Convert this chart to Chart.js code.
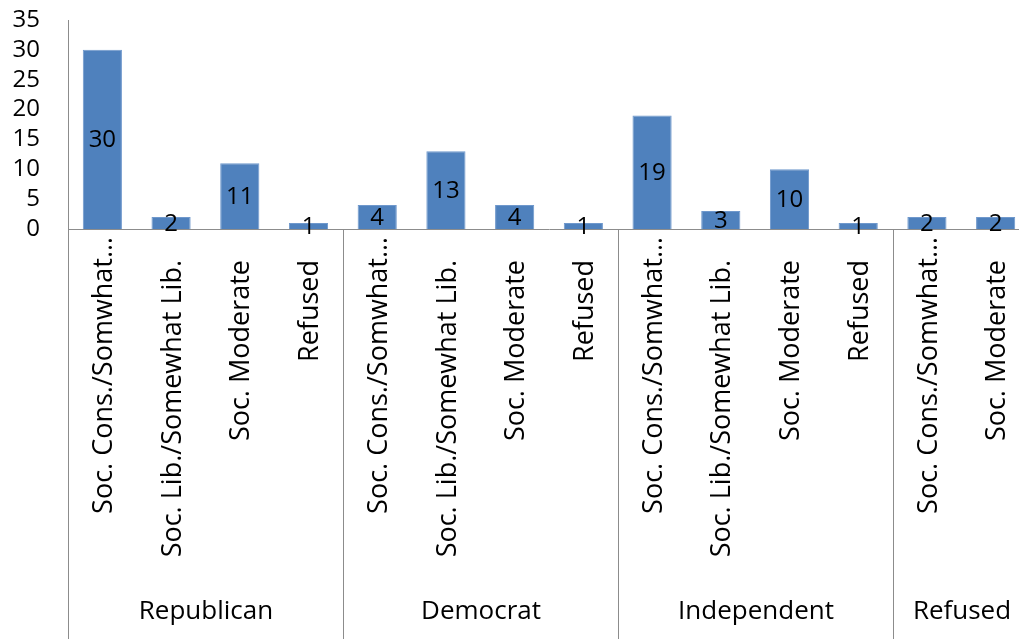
<!DOCTYPE html>
<html>
<head>
<meta charset="utf-8">
<title>Social ideology by party</title>
<script src="https://cdn.jsdelivr.net/npm/chart.js@4/dist/chart.umd.min.js"></script>
<style>
  html, body { margin: 0; padding: 0; background: #ffffff; overflow: hidden; }
  #wrap { width: 1030px; height: 639px; }
</style>
</head>
<body>
<div id="wrap"><canvas id="chart" width="1030" height="639"></canvas></div>
<script>
// Party groups and how many ideology categories sit under each one
const groupNames = ['Republican', 'Democrat', 'Independent', 'Refused'];
const groupSizes = [4, 4, 4, 2];

// Ideology categories, in drawing order
const categories = [
  'Soc. Cons./Somwhat\u2026', 'Soc. Lib./Somewhat Lib.', 'Soc. Moderate', 'Refused',
  'Soc. Cons./Somwhat\u2026', 'Soc. Lib./Somewhat Lib.', 'Soc. Moderate', 'Refused',
  'Soc. Cons./Somwhat\u2026', 'Soc. Lib./Somewhat Lib.', 'Soc. Moderate', 'Refused',
  'Soc. Cons./Somwhat\u2026', 'Soc. Moderate'
];

// Respondent counts
const counts = [30, 2, 11, 1, 4, 13, 4, 1, 19, 3, 10, 1, 2, 2];

// Value axis ticks
const yTicks = [0, 5, 10, 15, 20, 25, 30, 35];

const FONT = '"Open Sans", Lato, sans-serif';
const AXIS_COLOR = '#8c8c8c';
const TEXT_COLOR = '#000000';
const BAR_COLOR = '#4f81bd';

// Value labels centred inside each bar
const valueLabels = {
  id: 'valueLabels',
  afterDatasetsDraw(chart) {
    const ctx = chart.ctx;
    const meta = chart.getDatasetMeta(0);
    const data = chart.data.datasets[0].data;
    ctx.save();
    ctx.font = '24px ' + FONT;
    ctx.fillStyle = TEXT_COLOR;
    ctx.textAlign = 'center';
    ctx.textBaseline = 'middle';
    meta.data.forEach((bar, i) => {
      ctx.fillText(String(data[i]), bar.x, (bar.y + bar.base) / 2 + 1);
    });
    ctx.restore();
  }
};

// Category axis: vertical category names, then party names with dividers
const groupAxis = {
  id: 'groupAxis',
  afterDraw(chart) {
    const ctx = chart.ctx;
    const x = chart.scales.x;
    const top = chart.chartArea.bottom;
    const bottom = chart.height;
    const step = (x.right - x.left) / categories.length;
    ctx.save();

    // vertical category names, reading upwards and ending just under the axis
    ctx.font = '27px ' + FONT;
    ctx.fillStyle = TEXT_COLOR;
    ctx.textAlign = 'right';
    ctx.textBaseline = 'middle';
    categories.forEach((label, i) => {
      const cx = x.getPixelForValue(i) + 2;
      const endY = top + (label.endsWith('\u2026') ? 8 : 31);
      ctx.save();
      ctx.translate(cx, endY);
      ctx.rotate(-Math.PI / 2);
      ctx.fillText(label, 0, 0);
      ctx.restore();
    });

    // group dividers and party names
    ctx.strokeStyle = AXIS_COLOR;
    ctx.lineWidth = 1;
    ctx.font = '26px ' + FONT;
    ctx.textAlign = 'center';
    let start = 0;
    const edge = (i) => Math.round(x.left + i * step) + 0.5;
    ctx.beginPath();
    ctx.moveTo(edge(0), top);
    ctx.lineTo(edge(0), bottom);
    ctx.stroke();
    groupNames.forEach((name, g) => {
      const end = start + groupSizes[g];
      ctx.beginPath();
      ctx.moveTo(edge(end), top);
      ctx.lineTo(edge(end), bottom);
      ctx.stroke();
      ctx.fillText(name, (edge(start) + edge(end)) / 2, 612);
      start = end;
    });
    ctx.restore();
  }
};

// Keep the plot edges fixed regardless of label overhang
function noOverhang(scale) {
  scale.paddingTop = 0;
  scale.paddingBottom = 0;
  scale.paddingLeft = 0;
  scale.paddingRight = 0;
}

new Chart(document.getElementById('chart'), {
  type: 'bar',
  data: {
    labels: categories,
    datasets: [{
      data: counts,
      backgroundColor: BAR_COLOR,
      borderColor: '#6f98cc',
      borderWidth: 1,
      categoryPercentage: 1,
      barPercentage: 0.57
    }]
  },
  options: {
    responsive: false,
    animation: false,
    devicePixelRatio: 1,
    layout: { padding: { top: 20, right: 0, bottom: 0, left: 0 } },
    plugins: { legend: { display: false }, tooltip: { enabled: false } },
    scales: {
      x: {
        grid: { display: false, drawTicks: false },
        border: { display: true, color: AXIS_COLOR, width: 1 },
        ticks: { display: false },
        afterFit(scale) { scale.height = 639 - 229; noOverhang(scale); }
      },
      y: {
        min: 0,
        max: 35,
        afterBuildTicks(scale) { scale.ticks = yTicks.map(v => ({ value: v })); },
        grid: { display: false, drawTicks: false },
        border: { display: true, color: AXIS_COLOR, width: 1 },
        ticks: {
          autoSkip: false,
          padding: 28,
          color: TEXT_COLOR,
          font: { family: FONT, size: 24 }
        },
        afterFit(scale) { scale.width = 68; noOverhang(scale); }
      }
    }
  },
  plugins: [valueLabels, groupAxis]
});
</script>
</body>
</html>
